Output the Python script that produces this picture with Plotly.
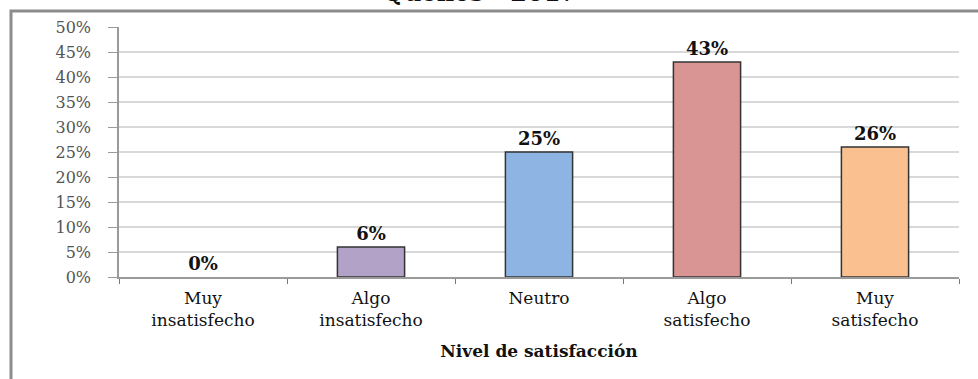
import plotly.graph_objects as go

# Survey results: share of respondents per satisfaction level
categories = ["Muy<br>insatisfecho", "Algo<br>insatisfecho", "Neutro",
              "Algo<br>satisfecho", "Muy<br>satisfecho"]
shares = [0, 6, 25, 43, 26]
bar_colors = ["#b3a2c7", "#b3a2c7", "#8eb4e3", "#d99594", "#fac090"]
y_ticks = list(range(0, 55, 5))
y_tick_labels = [f"{v}%" for v in y_ticks]
title_text = "Queños - 2017"
x_title = "Nivel de satisfacción"

W, H = 978, 379
L, R, T, B = 119, 19, 27, 102
pw, ph = W - L - R, H - T - B

serif = "DejaVu Serif, Liberation Serif, serif"

fig = go.Figure(
    go.Bar(
        x=categories,
        y=shares,
        width=0.4,
        marker=dict(color=bar_colors,
                    line=dict(color="#333333",
                              width=[0 if v == 0 else 1.5 for v in shares])),
        text=[f"{v}%" for v in shares],
        textposition="outside",
        textfont=dict(family=serif, size=18, color="#111111", weight="bold"),
        cliponaxis=False,
    )
)

fig.update_layout(
    width=W,
    height=H,
    margin=dict(l=L, r=R, t=T, b=B, pad=0),
    paper_bgcolor="white",
    plot_bgcolor="white",
    showlegend=False,
    bargap=0.6,
    font=dict(family=serif, size=15, color="#222222"),
    xaxis=dict(
        type="category",
        showline=True,
        linecolor="#9a9a9a",
        linewidth=1.5,
        ticks="outside",
        tickson="boundaries",
        ticklen=5,
        tickcolor="#777777",
        ticklabelstandoff=5,
        tickfont=dict(family=serif, size=17, color="#111111"),
        title=dict(text=x_title, standoff=16,
                   font=dict(family=serif, size=17, color="#111111", weight="bold")),
        showgrid=False,
    ),
    yaxis=dict(
        range=[0, 50],
        tickvals=y_ticks,
        ticktext=y_tick_labels,
        showline=True,
        linecolor="#9a9a9a",
        linewidth=1.5,
        ticks="outside",
        ticklen=9,
        tickcolor="#9a9a9a",
        ticklabelstandoff=14,
        tickfont=dict(family=serif, size=16, color="#555555"),
        showgrid=True,
        gridcolor="#d9d9d9",
        gridwidth=2,
        zeroline=False,
    ),
)

# Outer frame of the chart box (top and left edges visible)
def px_to_paper_x(px):
    return (px - L) / pw

def px_to_paper_y(py):
    return (H - B - py) / ph

fig.add_shape(
    type="path",
    xref="paper", yref="paper",
    path=(f"M {px_to_paper_x(11)} {px_to_paper_y(H + 20)} "
          f"L {px_to_paper_x(11)} {px_to_paper_y(11)} "
          f"L {px_to_paper_x(W + 20)} {px_to_paper_y(11)}"),
    line=dict(color="#8c8c8c", width=3),
    layer="above",
)

# Chart title sitting above the frame
fig.add_annotation(
    text=title_text,
    xref="paper", yref="paper",
    x=px_to_paper_x(480), y=px_to_paper_y(9),
    xanchor="center", yanchor="bottom",
    showarrow=False,
    font=dict(family=serif, size=24, color="#111111", weight="bold"),
)

fig.write_html("out.html")
